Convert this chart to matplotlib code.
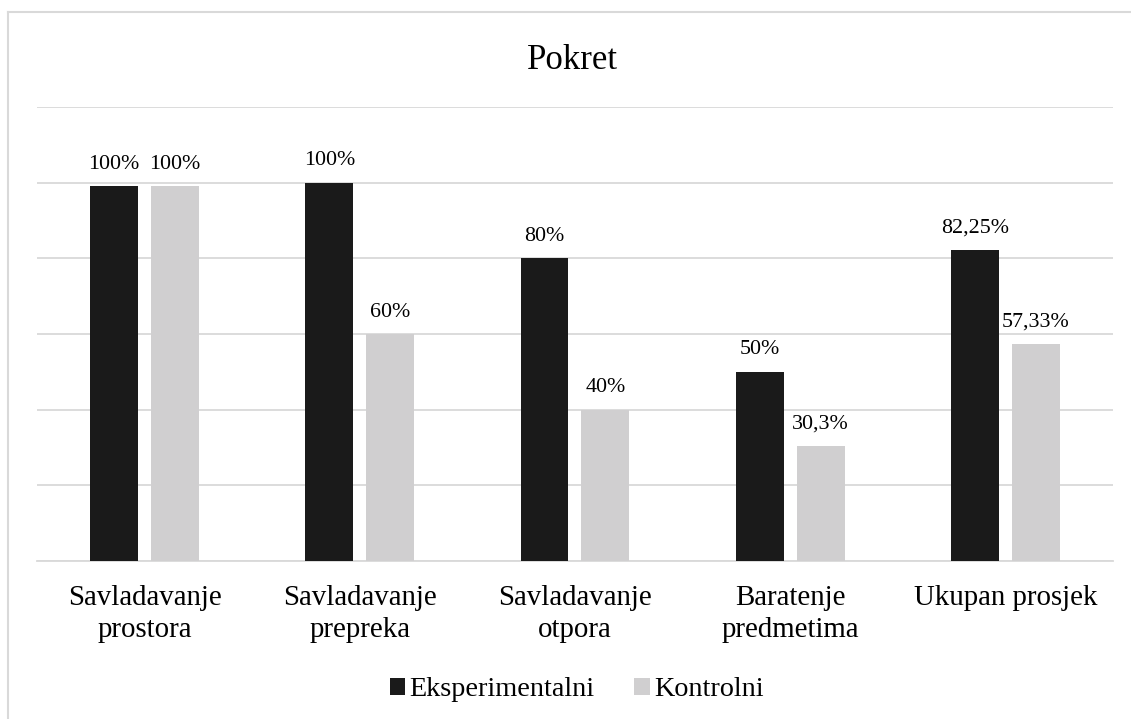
import numpy as np
import matplotlib.pyplot as plt
from matplotlib.lines import Line2D

plt.rcParams['font.family'] = ['Liberation Serif', 'DejaVu Serif']

categories = ["Savladavanje\nprostora", "Savladavanje\nprepreka", "Savladavanje\notpora",
              "Baratenje\npredmetima", "Ukupan prosjek"]
eksperimentalni = [99, 100, 80, 50, 82.25]
kontrolni = [99, 60, 40, 30.3, 57.33]
eksp_labels = ["100%", "100%", "80%", "50%", "82,25%"]
kontr_labels = ["100%", "60%", "40%", "30,3%", "57,33%"]
series_names = ["Eksperimentalni", "Kontrolni"]

c_black = "#1a1a1a"
c_gray = "#d0cfd0"
c_grid = "#d9d9d9"

fig = plt.figure(figsize=(11.31, 7.19), dpi=100)
ax = fig.add_axes([0.0327, 0.2197, 0.9513, 0.6315])

x = np.arange(len(categories))
w = 0.223
off = (w + 0.06) / 2
b1 = ax.bar(x - off, eksperimentalni, w, color=c_black, label=series_names[0], zorder=3)
b2 = ax.bar(x + off, kontrolni, w, color=c_gray, label=series_names[1], zorder=3)

for bars, labs in ((b1, eksp_labels), (b2, kontr_labels)):
    for rect, lab in zip(bars, labs):
        ax.annotate(lab, (rect.get_x() + rect.get_width() / 2, rect.get_height()),
                    xytext=(0, 9), textcoords="offset points", ha="center", va="bottom",
                    fontsize=15.8, color="#000000")

ax.set_xlim(-0.5, len(categories) - 0.5)
ax.set_ylim(0, 120)
ax.set_yticks(np.arange(0, 121, 20))
ax.yaxis.grid(True, color=c_grid, lw=1.3, zorder=0)
ax.tick_params(axis='y', left=False, labelleft=False)
ax.set_xticks(x)
ax.set_xticklabels(categories, fontsize=20.8, linespacing=1.3)
ax.tick_params(axis='x', length=0, pad=17)
for s in ("top", "right", "left"):
    ax.spines[s].set_visible(False)
ax.spines["bottom"].set_color(c_grid)
ax.spines["bottom"].set_linewidth(1.3)

fig.text(0.506, 0.916, "Pokret", ha="center", va="center", fontsize=25)

fig.legend(handles=[b1, b2], loc="center", bbox_to_anchor=(0.51, 0.041), ncol=2,
           frameon=False, fontsize=20.3, handlelength=0.55, handleheight=0.55,
           handletextpad=0.15, columnspacing=1.4)

# chart area border (top and left edges visible in the crop)
fig.add_artist(Line2D([0.007, 0.007], [0.0, 0.984], transform=fig.transFigure, color=c_grid, lw=1.5))
fig.add_artist(Line2D([0.007, 1.0], [0.984, 0.984], transform=fig.transFigure, color=c_grid, lw=1.5))

fig.savefig("out.png", dpi=100)
